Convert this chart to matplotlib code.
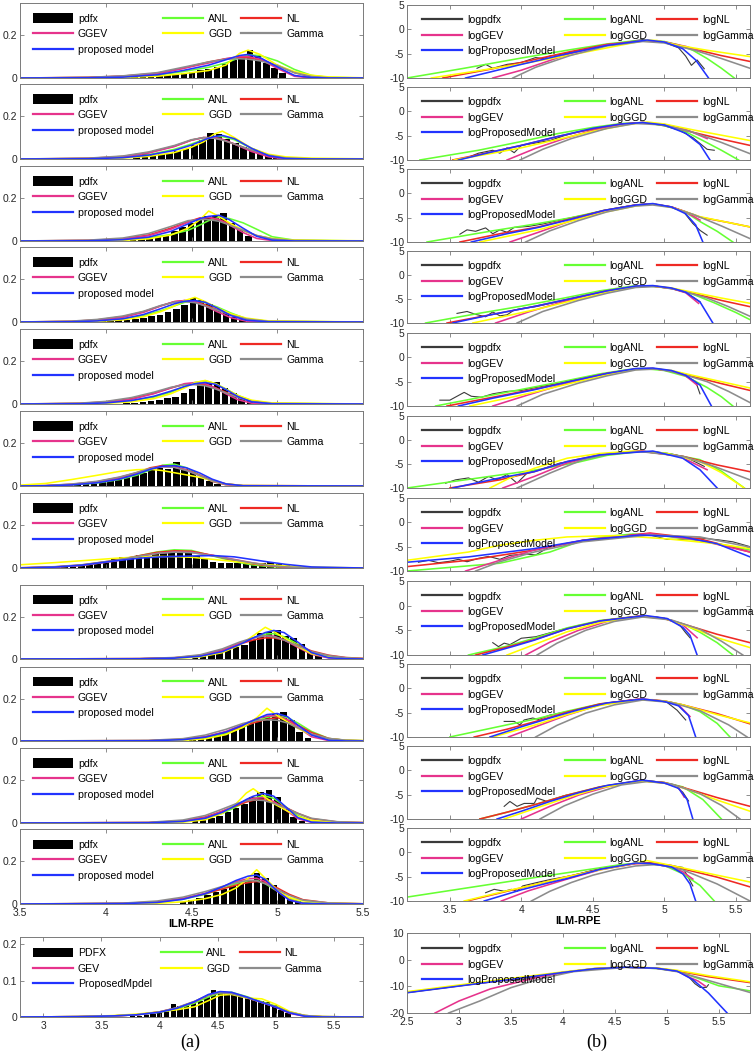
import matplotlib
matplotlib.use('Agg')
import matplotlib.pyplot as plt
import numpy as np

plt.rcParams['font.family'] = ['Liberation Sans', 'DejaVu Sans']

# ======================= DATA =======================
LEFT_LABELS = ['pdfx', 'ANL', 'NL', 'GGEV', 'GGD', 'Gamma', 'proposed model']
LEFT12_LABELS = ['PDFX', 'ANL', 'NL', 'GEV', 'GGD', 'Gamma', 'ProposedMpdel']
RIGHT_LABELS = ['logpdfx', 'logANL', 'logNL', 'logGEV', 'logGGD', 'logGamma', 'logProposedModel']

LEFT_XTICKS = [3.5, 4, 4.5, 5, 5.5]
LEFT12_XTICKS = [3, 3.5, 4, 4.5, 5, 5.5]
RIGHT_XTICKS = [3.5, 4, 4.5, 5, 5.5]
RIGHT12_XTICKS = [2.5, 3, 3.5, 4, 4.5, 5, 5.5]
LEFT_YTICKS = [0, 0.2]
LEFT12_YTICKS = [0, 0.1, 0.2]
RIGHT_YTICKS = [-10, -5, 0, 5]
RIGHT12_YTICKS = [-20, -10, 0, 10]

BIN_W = 0.048
BIN_W12 = 0.058

# ---- left histograms (first bin centre, heights) ----
l1_hist_x0 = 4.12
l1_hist = [0.004, 0.006, 0.008, 0.010, 0.013, 0.016, 0.020, 0.025, 0.030, 0.036, 0.043, 0.052, 0.065, 0.085, 0.105, 0.133, 0.105, 0.070, 0.045, 0.025]
l2_hist_x0 = 4.18
l2_hist = [0.012, 0.025, 0.020, 0.025, 0.030, 0.038, 0.048, 0.065, 0.090, 0.120, 0.115, 0.095, 0.075, 0.055, 0.040, 0.025, 0.015, 0.008]
l3_hist_x0 = 4.16
l3_hist = [0.004, 0.008, 0.012, 0.018, 0.030, 0.048, 0.067, 0.082, 0.105, 0.116, 0.116, 0.130, 0.082, 0.050, 0.023]
l4_hist_x0 = 3.98
l4_hist = [0.004, 0.006, 0.008, 0.011, 0.015, 0.020, 0.026, 0.034, 0.045, 0.060, 0.080, 0.110, 0.105, 0.085, 0.062, 0.042, 0.025, 0.013, 0.006]
l5_hist_x0 = 4.12
l5_hist = [0.004, 0.006, 0.010, 0.014, 0.020, 0.026, 0.035, 0.050, 0.070, 0.095, 0.100, 0.103, 0.075, 0.050, 0.030, 0.015]
l6_hist_x0 = 3.74
l6_hist = [0.005, 0.008, 0.010, 0.015, 0.020, 0.025, 0.030, 0.040, 0.050, 0.060, 0.062, 0.075, 0.085, 0.080, 0.112, 0.078, 0.070, 0.040, 0.025, 0.010]
l7_hist_x0 = 3.665
l7_hist = [0.004, 0.006, 0.008, 0.010, 0.013, 0.017, 0.022, 0.030, 0.040, 0.052, 0.050, 0.062, 0.058, 0.070, 0.075, 0.075, 0.075, 0.072, 0.055, 0.040, 0.030, 0.025, 0.022, 0.022, 0.020, 0.020, 0.022, 0.027, 0.020, 0.012]
l8_hist_x0 = 4.52
l8_hist = [0.008, 0.014, 0.022, 0.032, 0.045, 0.055, 0.066, 0.090, 0.125, 0.130, 0.138, 0.110, 0.100, 0.073, 0.034, 0.015]
l9_hist_x0 = 4.507
l9_hist = [0.008, 0.012, 0.020, 0.030, 0.040, 0.050, 0.065, 0.090, 0.105, 0.120, 0.128, 0.136, 0.097, 0.042, 0.015]
l10_hist_x0 = 4.52
l10_hist = [0.008, 0.015, 0.025, 0.035, 0.050, 0.070, 0.090, 0.120, 0.145, 0.155, 0.120, 0.067, 0.028, 0.010]
l11_hist_x0 = 4.45
l11_hist = [0.010, 0.020, 0.030, 0.040, 0.055, 0.070, 0.085, 0.100, 0.110, 0.145, 0.120, 0.090, 0.060, 0.030, 0.012]
l12_hist_x0 = 3.77
l12_hist = [0.002, 0.003, 0.005, 0.008, 0.012, 0.016, 0.037, 0.030, 0.033, 0.040, 0.045, 0.055, 0.075, 0.070, 0.068, 0.065, 0.060, 0.055, 0.050, 0.045, 0.040, 0.032, 0.020, 0.010]

# ---- left fitted curves (shared x per panel) ----
l1_x = [3.5, 3.9, 4.1, 4.3, 4.45, 4.6, 4.7, 4.78, 4.83, 4.9, 5.0, 5.1, 5.2, 5.3, 5.5]
l1_anl = [0, .002, .006, .014, .03, .05, .07, .095, .108, .105, .08, .04, .012, .003, 0]
l1_nl = [0, .003, .009, .022, .045, .075, .09, .095, .094, .085, .06, .025, .006, .001, 0]
l1_ggev = [0, .002, .008, .02, .045, .07, .09, .1, .1, .088, .045, .008, 0, 0, 0]
l1_ggd = [0, 0, .003, .008, .02, .035, .06, .115, .13, .11, .06, .03, .013, .005, .001]
l1_gamma = [0, .003, .01, .025, .05, .075, .088, .09, .088, .08, .058, .025, .007, .001, 0]
l1_prop = [0, .001, .004, .015, .035, .06, .085, .105, .11, .095, .052, .012, .002, 0, 0]

l2_x = [3.5, 3.9, 4.1, 4.25, 4.4, 4.5, 4.57, 4.63, 4.68, 4.75, 4.85, 4.95, 5.05, 5.2, 5.5]
l2_anl = [0, .002, .008, .02, .045, .07, .09, .103, .105, .09, .05, .018, .005, .001, 0]
l2_nl = [0, .003, .012, .03, .06, .088, .1, .098, .09, .07, .04, .015, .004, 0, 0]
l2_ggev = [0, .002, .01, .028, .058, .088, .1, .1, .092, .07, .035, .01, 0, 0, 0]
l2_ggd = [0, 0, .004, .012, .03, .055, .08, .115, .13, .1, .05, .022, .01, .004, .001]
l2_gamma = [0, .004, .014, .033, .063, .09, .1, .097, .088, .07, .042, .018, .005, .001, 0]
l2_prop = [0, .001, .006, .018, .04, .065, .088, .105, .11, .095, .05, .015, .002, 0, 0]

l3_x = [3.5, 3.9, 4.1, 4.25, 4.38, 4.48, 4.55, 4.6, 4.66, 4.72, 4.8, 4.88, 4.97, 5.1, 5.5]
l3_anl = [0, .001, .006, .015, .03, .05, .075, .095, .11, .105, .085, .055, .02, .004, 0]
l3_nl = [0, .003, .01, .028, .06, .09, .108, .11, .1, .08, .05, .025, .01, .002, 0]
l3_ggev = [0, .002, .009, .025, .055, .088, .105, .11, .1, .075, .04, .012, .002, 0, 0]
l3_ggd = [0, 0, .003, .01, .028, .06, .1, .14, .115, .085, .05, .025, .012, .004, .001]
l3_gamma = [0, .004, .014, .035, .068, .095, .1, .1, .092, .075, .05, .026, .01, .002, 0]
l3_prop = [0, .001, .006, .018, .045, .08, .105, .115, .12, .1, .06, .022, .004, 0, 0]

l4_x = [3.5, 3.8, 3.95, 4.1, 4.22, 4.32, 4.4, 4.46, 4.52, 4.58, 4.65, 4.73, 4.82, 4.95, 5.5]
l4_anl = [0, .002, .006, .015, .03, .052, .075, .092, .1, .09, .07, .042, .015, .003, 0]
l4_nl = [0, .003, .01, .025, .048, .075, .095, .1, .095, .08, .058, .033, .013, .002, 0]
l4_ggev = [0, .002, .008, .022, .045, .075, .095, .1, .095, .075, .048, .02, .004, 0, 0]
l4_ggd = [0, 0, .003, .01, .024, .048, .075, .1, .115, .095, .065, .038, .018, .005, 0]
l4_gamma = [0, .004, .012, .028, .05, .077, .093, .095, .09, .075, .055, .032, .014, .003, 0]
l4_prop = [0, .001, .005, .015, .035, .062, .085, .097, .1, .092, .065, .03, .008, .001, 0]

l5_x = [3.5, 3.85, 4.0, 4.15, 4.28, 4.38, 4.46, 4.52, 4.58, 4.64, 4.7, 4.77, 4.85, 4.97, 5.5]
l5_anl = [0, .002, .006, .015, .032, .055, .08, .1, .108, .095, .07, .04, .015, .003, 0]
l5_nl = [0, .003, .01, .025, .05, .075, .092, .095, .09, .075, .055, .032, .012, .002, 0]
l5_ggev = [0, .002, .008, .022, .048, .075, .095, .1, .095, .075, .048, .02, .004, 0, 0]
l5_ggd = [0, 0, .003, .01, .025, .048, .075, .1, .11, .095, .07, .04, .018, .005, 0]
l5_gamma = [0, .004, .012, .03, .055, .078, .09, .09, .085, .07, .052, .03, .012, .002, 0]
l5_prop = [0, .001, .005, .016, .036, .06, .082, .095, .1, .092, .068, .035, .01, .001, 0]

l6_x = [3.5, 3.65, 3.8, 3.95, 4.08, 4.18, 4.26, 4.33, 4.4, 4.47, 4.55, 4.62, 4.7, 4.8, 5.5]
l6_anl = [0, .001, .005, .014, .03, .05, .075, .097, .102, .085, .05, .022, .006, .001, 0]
l6_nl = [0, .002, .008, .02, .04, .062, .085, .095, .09, .075, .05, .027, .01, .002, 0]
l6_ggev = [0, .001, .006, .018, .038, .06, .08, .09, .088, .075, .048, .022, .006, 0, 0]
l6_ggd = [.004, .012, .03, .05, .068, .076, .078, .072, .062, .052, .04, .025, .01, .002, 0]
l6_gamma = [0, .002, .009, .022, .042, .063, .082, .09, .087, .072, .048, .025, .009, .002, 0]
l6_prop = [0, .001, .005, .015, .032, .055, .078, .092, .095, .085, .06, .032, .01, .001, 0]

l7_x = [3.5, 3.7, 3.86, 4.05, 4.2, 4.3, 4.4, 4.5, 4.63, 4.75, 4.85, 4.95, 5.05, 5.2, 5.5]
l7_anl = [0, .004, .012, .033, .058, .075, .085, .082, .055, .03, .015, .007, .003, .001, 0]
l7_nl = [.001, .005, .014, .035, .058, .073, .08, .078, .058, .035, .02, .01, .004, .001, 0]
l7_ggev = [0, .004, .012, .032, .055, .068, .075, .073, .058, .04, .025, .013, .005, .001, 0]
l7_ggd = [.015, .025, .034, .045, .052, .054, .053, .05, .04, .03, .022, .015, .01, .004, 0]
l7_gamma = [.001, .006, .015, .035, .056, .068, .074, .072, .056, .038, .024, .012, .005, .001, 0]
l7_prop = [0, .004, .013, .033, .046, .051, .054, .056, .058, .052, .04, .028, .017, .005, 0]

l8_x = [3.5, 4.2, 4.4, 4.55, 4.68, 4.78, 4.86, 4.93, 4.98, 5.04, 5.12, 5.2, 5.3, 5.4, 5.5]
l8_anl = [0, .001, .004, .012, .035, .07, .1, .118, .12, .105, .07, .032, .01, .003, .001]
l8_nl = [0, .002, .006, .017, .042, .07, .09, .1, .1, .09, .065, .038, .018, .007, .003]
l8_ggev = [0, .001, .005, .016, .042, .075, .1, .11, .108, .09, .055, .022, .005, 0, 0]
l8_ggd = [0, 0, .002, .01, .03, .065, .11, .15, .13, .1, .06, .025, .009, .003, .001]
l8_gamma = [0, .002, .007, .02, .048, .08, .1, .11, .105, .09, .062, .035, .016, .006, .002]
l8_prop = [0, .001, .004, .013, .035, .068, .1, .125, .135, .125, .08, .03, .006, .001, 0]

l9_x = [3.5, 4.25, 4.45, 4.58, 4.7, 4.8, 4.88, 4.94, 5.0, 5.06, 5.12, 5.2, 5.3, 5.4, 5.5]
l9_anl = [0, .001, .005, .015, .035, .065, .095, .112, .12, .11, .085, .045, .012, .003, .001]
l9_nl = [0, .002, .008, .02, .042, .07, .09, .103, .11, .1, .075, .04, .012, .003, .001]
l9_ggev = [0, .001, .007, .02, .045, .078, .105, .118, .12, .1, .065, .02, .002, 0, 0]
l9_ggd = [0, 0, .003, .01, .03, .065, .11, .155, .12, .09, .06, .028, .01, .004, .002]
l9_gamma = [0, .003, .011, .028, .055, .083, .098, .1, .098, .085, .062, .033, .012, .004, .001]
l9_prop = [0, .001, .006, .018, .042, .075, .105, .125, .13, .115, .075, .028, .004, 0, 0]

l10_x = [3.5, 4.25, 4.45, 4.58, 4.68, 4.76, 4.82, 4.86, 4.92, 4.98, 5.05, 5.12, 5.2, 5.35, 5.5]
l10_anl = [0, .001, .006, .02, .045, .075, .1, .115, .128, .115, .075, .035, .01, .001, 0]
l10_nl = [0, .002, .01, .028, .055, .08, .098, .106, .108, .097, .072, .045, .02, .005, .002]
l10_ggev = [0, .002, .009, .025, .055, .085, .105, .115, .118, .1, .06, .02, .003, 0, 0]
l10_ggd = [0, 0, .004, .015, .045, .09, .14, .16, .125, .09, .06, .03, .012, .003, .001]
l10_gamma = [0, .003, .014, .035, .065, .09, .104, .108, .105, .092, .07, .045, .022, .006, .002]
l10_prop = [0, .001, .007, .022, .05, .083, .11, .125, .138, .125, .075, .025, .004, 0, 0]

l11_x = [3.5, 4.1, 4.3, 4.45, 4.58, 4.68, 4.76, 4.83, 4.88, 4.93, 5.0, 5.07, 5.15, 5.3, 5.5]
l11_anl = [0, .002, .008, .022, .045, .072, .095, .108, .11, .095, .06, .025, .006, .001, 0]
l11_nl = [0, .003, .01, .025, .048, .07, .088, .1, .105, .1, .075, .045, .02, .005, .001]
l11_ggev = [0, .002, .009, .025, .05, .08, .105, .118, .12, .105, .06, .02, .003, 0, 0]
l11_ggd = [0, 0, .003, .01, .025, .045, .075, .12, .16, .12, .065, .03, .015, .004, .001]
l11_gamma = [0, .004, .014, .032, .058, .082, .1, .11, .108, .095, .068, .04, .018, .005, .001]
l11_prop = [0, .002, .007, .022, .048, .08, .11, .13, .135, .115, .06, .018, .003, 0, 0]

l12_x = [2.8, 3.3, 3.6, 3.8, 4.0, 4.15, 4.3, 4.42, 4.52, 4.62, 4.75, 4.88, 5.0, 5.12, 5.25, 5.4, 5.75]
l12_anl = [0, .001, .003, .006, .013, .022, .038, .055, .066, .068, .056, .042, .03, .014, .004, .001, 0]
l12_nl = [0, .001, .003, .006, .014, .025, .042, .06, .068, .065, .053, .04, .028, .013, .004, .001, 0]
l12_ggev = [0, .001, .003, .006, .014, .025, .042, .06, .069, .066, .054, .04, .027, .01, .002, 0, 0]
l12_ggd = [0, .001, .004, .008, .014, .02, .028, .045, .06, .062, .052, .05, .035, .015, .004, .001, 0]
l12_gamma = [0, .001, .003, .006, .014, .026, .043, .06, .067, .064, .053, .04, .028, .013, .004, .001, 0]
l12_prop = [0, .001, .003, .006, .013, .024, .042, .062, .07, .068, .055, .04, .027, .011, .002, 0, 0]

# ---- right log curves, (x, y) pairs ----
r1_pdfx = [(3.69, -8.0), (3.75, -7.2), (3.8, -8.0), (3.9, -7.2), (4.0, -6.8), (4.1, -5.8), (4.15, -6.0), (4.2, -5.5), (4.3, -5.0), (4.4, -4.4), (4.5, -3.8), (4.6, -3.3), (4.7, -2.8), (4.8, -2.3), (4.85, -2.1), (4.9, -2.3), (5.0, -2.7), (5.1, -3.8), (5.15, -5.5), (5.19, -7.4), (5.23, -6.3), (5.28, -8.1)]
r1_anl = [(3.2, -10), (3.6, -8.0), (4.0, -5.9), (4.34, -4.2), (4.6, -3.0), (4.75, -2.5), (4.88, -2.3), (5.0, -2.5), (5.1, -3.2), (5.2, -4.3), (5.3, -6.0), (5.4, -8.0), (5.49, -10)]
r1_nl = [(3.45, -10), (3.8, -8.1), (4.0, -6.8), (4.34, -4.6), (4.6, -3.1), (4.88, -2.3), (5.0, -2.6), (5.2, -4.0), (5.4, -5.4), (5.6, -6.6)]
r1_gev = [(3.8, -10), (4.0, -8.4), (4.2, -6.4), (4.34, -5.0), (4.6, -3.2), (4.88, -2.3), (5.0, -2.6), (5.15, -3.5), (5.25, -4.5)]
r1_ggd = [(3.37, -10), (3.7, -8.5), (4.0, -7.1), (4.34, -5.3), (4.6, -3.8), (4.88, -2.2), (4.95, -2.3), (5.1, -3.3), (5.3, -4.3), (5.6, -5.6)]
r1_gamma = [(3.94, -10), (4.1, -7.8), (4.34, -5.4), (4.6, -3.4), (4.85, -2.5), (5.0, -2.8), (5.2, -4.2), (5.4, -6.0), (5.6, -8.0)]
r1_prop = [(3.61, -10), (4.0, -7.2), (4.34, -4.9), (4.6, -3.3), (4.88, -2.2), (5.0, -2.6), (5.13, -4.0), (5.22, -6.3), (5.31, -10)]

r2_pdfx = [(3.64, -9.3), (3.7, -8.6), (3.8, -8.0), (3.85, -8.6), (3.9, -7.5), (3.95, -8.5), (4.0, -7.0), (4.1, -6.5), (4.2, -6.0), (4.3, -5.0), (4.4, -4.2), (4.5, -3.7), (4.6, -3.3), (4.7, -2.7), (4.8, -2.4), (4.9, -2.5), (5.0, -3.0), (5.1, -3.8), (5.2, -5.4), (5.25, -6.6), (5.3, -7.8), (5.35, -8.0)]
r2_anl = [(3.29, -10), (3.7, -8.0), (4.0, -6.2), (4.25, -4.6), (4.5, -3.3), (4.7, -2.5), (4.85, -2.3), (5.0, -2.9), (5.15, -4.2), (5.27, -6.0), (5.4, -8.0), (5.52, -10)]
r2_nl = [(3.52, -10), (3.8, -8.3), (4.0, -7.0), (4.25, -5.2), (4.5, -3.6), (4.7, -2.6), (4.85, -2.3), (5.0, -2.8), (5.2, -4.3), (5.4, -5.7), (5.6, -7.0)]
r2_gev = [(3.9, -10), (4.1, -7.6), (4.3, -5.6), (4.5, -3.9), (4.7, -2.7), (4.85, -2.3), (5.0, -2.7), (5.15, -3.7), (5.3, -5.6)]
r2_ggd = [(3.53, -10), (3.8, -8.6), (4.0, -7.5), (4.25, -5.8), (4.5, -4.1), (4.75, -2.7), (4.88, -2.2), (5.0, -2.6), (5.2, -3.8), (5.4, -4.9), (5.6, -6.0)]
r2_gamma = [(3.99, -10), (4.15, -7.8), (4.35, -5.6), (4.6, -3.5), (4.8, -2.5), (5.0, -2.8), (5.2, -4.3), (5.4, -6.4), (5.6, -8.7)]
r2_prop = [(3.56, -10), (3.8, -8.3), (4.0, -7.0), (4.25, -5.2), (4.5, -3.5), (4.7, -2.6), (4.85, -2.3), (5.0, -2.8), (5.15, -4.5), (5.25, -6.8), (5.32, -10)]

r3_pdfx = [(3.57, -8.4), (3.62, -7.5), (3.68, -7.8), (3.75, -7.1), (3.8, -8.3), (3.85, -7.5), (3.9, -8.0), (3.95, -7.0), (4.05, -6.8), (4.15, -6.3), (4.3, -5.3), (4.45, -4.4), (4.6, -3.4), (4.75, -2.6), (4.85, -2.2), (4.95, -2.3), (5.05, -2.8), (5.13, -3.6), (5.2, -6.2), (5.25, -7.6), (5.3, -8.6)]
r3_anl = [(3.34, -10), (3.8, -7.7), (4.12, -6.2), (4.35, -5.0), (4.58, -3.5), (4.8, -2.4), (4.92, -2.2), (5.05, -2.8), (5.15, -3.9), (5.25, -5.8), (5.37, -7.8), (5.48, -10)]
r3_nl = [(3.57, -10), (3.85, -8.3), (4.12, -6.9), (4.35, -5.2), (4.58, -3.5), (4.8, -2.4), (4.92, -2.2), (5.05, -2.8), (5.15, -3.8), (5.25, -4.9), (5.45, -6.0), (5.6, -6.9)]
r3_gev = [(3.92, -10), (4.12, -8.0), (4.35, -5.6), (4.58, -3.6), (4.8, -2.4), (4.92, -2.2), (5.05, -2.8), (5.15, -3.8), (5.25, -5.5)]
r3_ggd = [(3.71, -10), (4.12, -7.5), (4.35, -5.7), (4.58, -3.9), (4.8, -2.6), (4.92, -2.2), (5.05, -2.9), (5.15, -3.8), (5.25, -4.8), (5.45, -6.0), (5.6, -6.9)]
r3_gamma = [(4.03, -10), (4.2, -7.7), (4.4, -5.6), (4.6, -3.8), (4.8, -2.6), (4.92, -2.4), (5.05, -2.9), (5.2, -4.3), (5.4, -6.7), (5.6, -9.3)]
r3_prop = [(3.65, -10), (3.9, -8.3), (4.12, -7.0), (4.35, -5.3), (4.58, -3.5), (4.8, -2.4), (4.92, -2.1), (5.05, -2.8), (5.15, -4.2), (5.22, -6.5), (5.27, -10)]

r4_pdfx = [(3.55, -8.0), (3.62, -7.6), (3.68, -8.2), (3.75, -8.7), (3.8, -7.7), (3.85, -8.5), (3.9, -8.3), (3.95, -7.3), (4.0, -7.0), (4.1, -6.6), (4.25, -5.6), (4.4, -4.6), (4.55, -3.6), (4.7, -2.8), (4.85, -2.3), (4.95, -2.4), (5.05, -2.8), (5.15, -3.6), (5.22, -5.0), (5.25, -5.6)]
r4_anl = [(3.33, -10), (3.7, -8.0), (4.0, -6.5), (4.3, -4.8), (4.55, -3.3), (4.78, -2.3), (4.9, -2.3), (5.05, -2.8), (5.2, -4.0), (5.35, -5.8), (5.5, -7.8), (5.6, -9.3)]
r4_nl = [(3.48, -10), (3.8, -8.2), (4.1, -6.5), (4.35, -4.9), (4.6, -3.3), (4.8, -2.4), (4.92, -2.3), (5.05, -2.8), (5.2, -3.8), (5.4, -5.3), (5.6, -6.6)]
r4_gev = [(3.82, -10), (4.05, -7.7), (4.3, -5.5), (4.55, -3.6), (4.8, -2.4), (4.92, -2.3), (5.05, -2.8), (5.15, -3.7), (5.24, -5.9)]
r4_ggd = [(3.66, -10), (3.9, -8.5), (4.1, -7.2), (4.35, -5.4), (4.6, -3.6), (4.8, -2.5), (4.92, -2.3), (5.05, -2.7), (5.2, -3.6), (5.4, -4.8), (5.6, -5.9)]
r4_gamma = [(3.97, -10), (4.15, -7.6), (4.4, -5.3), (4.6, -3.8), (4.8, -2.6), (4.95, -2.4), (5.1, -3.1), (5.3, -4.8), (5.45, -6.6), (5.6, -8.6)]
r4_prop = [(3.52, -10), (3.8, -8.2), (4.1, -6.5), (4.35, -4.9), (4.6, -3.3), (4.8, -2.3), (4.92, -2.2), (5.05, -2.7), (5.15, -3.6), (5.25, -5.6), (5.34, -10)]

r5_pdfx = [(3.43, -8.8), (3.5, -8.8), (3.55, -8.0), (3.6, -7.2), (3.65, -8.0), (3.72, -8.2), (3.8, -7.5), (3.9, -7.0), (4.0, -6.8), (4.1, -6.2), (4.25, -5.4), (4.4, -4.5), (4.55, -3.6), (4.7, -2.8), (4.85, -2.3), (4.95, -2.4), (5.05, -2.8), (5.15, -3.8), (5.22, -5.0), (5.25, -7.5)]
r5_anl = [(3.4, -10), (3.7, -8.3), (4.0, -6.6), (4.3, -4.9), (4.55, -3.4), (4.75, -2.5), (4.85, -2.3), (5.0, -2.7), (5.15, -3.9), (5.3, -6.2), (5.4, -8.1), (5.48, -10)]
r5_nl = [(3.48, -10), (3.8, -8.2), (4.1, -6.5), (4.35, -4.9), (4.6, -3.3), (4.8, -2.4), (4.92, -2.3), (5.05, -2.8), (5.2, -3.9), (5.4, -5.4), (5.6, -6.8)]
r5_gev = [(3.8, -10), (4.05, -7.7), (4.3, -5.5), (4.55, -3.6), (4.8, -2.4), (4.92, -2.3), (5.05, -2.8), (5.15, -3.8), (5.23, -5.7)]
r5_ggd = [(3.64, -10), (3.9, -8.4), (4.1, -7.1), (4.35, -5.3), (4.6, -3.6), (4.8, -2.5), (4.92, -2.3), (5.05, -2.7), (5.2, -3.7), (5.4, -5.0), (5.6, -6.3)]
r5_gamma = [(3.97, -10), (4.15, -7.6), (4.4, -5.3), (4.6, -3.8), (4.8, -2.6), (4.95, -2.4), (5.1, -3.2), (5.3, -5.0), (5.45, -7.0), (5.6, -9.3)]
r5_prop = [(3.56, -10), (3.8, -8.4), (4.1, -6.6), (4.35, -4.9), (4.6, -3.3), (4.8, -2.3), (4.92, -2.2), (5.05, -2.7), (5.15, -3.7), (5.25, -5.7), (5.33, -10)]

r6_pdfx = [(3.47, -9.0), (3.54, -8.3), (3.63, -7.9), (3.7, -8.8), (3.77, -7.6), (3.83, -8.3), (3.9, -7.2), (3.97, -9.0), (4.04, -6.9), (4.13, -6.2), (4.27, -4.8), (4.41, -4.1), (4.55, -3.2), (4.7, -2.6), (4.83, -2.3), (4.95, -2.5), (5.05, -2.9), (5.15, -3.6), (5.22, -4.6), (5.28, -5.5)]
r6_anl = [(3.2, -10), (4.11, -6.2), (4.4, -4.6), (4.6, -3.2), (4.83, -2.4), (5.0, -2.7), (5.25, -4.1), (5.4, -6.5), (5.56, -10)]
r6_nl = [(3.5, -10), (3.85, -8.3), (4.09, -6.6), (4.32, -4.5), (4.55, -3.1), (4.83, -2.3), (5.13, -3.4), (5.37, -5.2), (5.6, -6.6)]
r6_gev = [(3.87, -10), (4.09, -7.6), (4.32, -4.8), (4.55, -3.1), (4.83, -2.3), (5.1, -3.3), (5.3, -6.2)]
r6_ggd = [(3.78, -10), (3.92, -7.9), (4.09, -5.9), (4.32, -3.8), (4.55, -2.8), (4.78, -2.3), (5.02, -2.8), (5.25, -4.5), (5.4, -6.8), (5.56, -10)]
r6_gamma = [(3.97, -10), (4.2, -6.9), (4.43, -4.1), (4.6, -3.0), (4.83, -2.4), (5.13, -3.4), (5.35, -5.5), (5.6, -8.3)]
r6_prop = [(3.52, -10), (3.85, -7.9), (4.09, -6.6), (4.32, -4.5), (4.55, -3.1), (4.92, -2.3), (5.13, -3.8), (5.25, -6.2), (5.37, -10)]

r7_pdfx = [(3.28, -8.2), (3.35, -7.8), (3.42, -8.3), (3.5, -8.0), (3.56, -7.6), (3.62, -8.1), (3.7, -7.4), (3.77, -7.0), (3.85, -7.6), (3.92, -6.8), (4.02, -6.5), (4.1, -6.7), (4.2, -5.0), (4.35, -4.2), (4.55, -3.3), (4.78, -2.5), (4.9, -2.6), (5.02, -3.5), (5.13, -3.5), (5.25, -3.2), (5.38, -3.6), (5.48, -4.0), (5.6, -5.0)]
r7_anl = [(3.2, -10), (3.85, -8.4), (4.2, -6.1), (4.43, -3.7), (4.6, -2.9), (4.78, -2.4), (5.0, -2.8), (5.25, -3.8), (5.45, -4.8), (5.6, -5.7)]
r7_nl = [(3.2, -9.1), (3.63, -7.8), (4.09, -5.7), (4.43, -3.7), (4.9, -2.2), (5.25, -3.4), (5.6, -6.1)]
r7_gev = [(3.61, -10), (3.85, -7.8), (4.09, -5.7), (4.43, -3.7), (4.9, -2.3), (5.25, -3.7), (5.6, -6.1)]
r7_ggd = [(3.2, -7.8), (3.63, -6.1), (3.85, -4.7), (4.09, -3.7), (4.32, -3.0), (4.67, -2.7), (5.02, -3.4), (5.37, -4.4), (5.6, -5.4)]
r7_gamma = [(3.68, -10), (3.85, -8.1), (4.09, -6.1), (4.43, -4.0), (4.9, -2.6), (5.25, -3.0), (5.6, -5.1)]
r7_prop = [(3.2, -8.2), (3.63, -7.1), (4.09, -5.4), (4.43, -3.7), (4.83, -2.6), (5.13, -3.0), (5.37, -4.4), (5.6, -7.1)]

r8_pdfx = [(3.8, -7.5), (3.84, -8.3), (3.88, -7.6), (3.92, -7.9), (4.0, -6.6), (4.1, -6.3), (4.25, -5.1), (4.4, -4.0), (4.55, -3.1), (4.7, -2.5), (4.85, -2.1), (4.95, -2.3), (5.05, -2.9), (5.11, -4.0), (5.15, -5.5), (5.18, -6.5)]
r8_anl = [(3.63, -10), (3.9, -8.2), (4.09, -6.6), (4.32, -4.5), (4.55, -3.0), (4.83, -2.1), (5.0, -2.6), (5.13, -3.7), (5.25, -5.4), (5.37, -7.5), (5.48, -10)]
r8_nl = [(3.68, -10), (3.9, -8.4), (4.09, -6.9), (4.32, -4.7), (4.55, -3.1), (4.83, -2.1), (5.0, -2.6), (5.13, -3.7), (5.37, -5.8), (5.6, -7.5)]
r8_gev = [(4.03, -10), (4.2, -7.4), (4.4, -5.0), (4.6, -3.2), (4.83, -2.1), (5.0, -2.6), (5.13, -3.9), (5.23, -6.5)]
r8_ggd = [(3.9, -10), (4.09, -7.9), (4.32, -5.3), (4.55, -3.4), (4.83, -2.2), (5.0, -2.6), (5.13, -3.8), (5.37, -6.5), (5.6, -8.5)]
r8_gamma = [(4.11, -10), (4.25, -7.6), (4.45, -5.0), (4.65, -3.2), (4.85, -2.3), (5.05, -2.9), (5.25, -4.8), (5.4, -7.2), (5.55, -10)]
r8_prop = [(3.73, -10), (3.95, -8.2), (4.09, -7.0), (4.32, -4.7), (4.55, -3.1), (4.87, -2.0), (5.02, -2.6), (5.13, -4.4), (5.18, -6.0), (5.23, -10)]

r9_pdfx = [(3.88, -6.8), (3.95, -6.8), (3.99, -7.5), (4.02, -6.5), (4.08, -6.1), (4.12, -6.4), (4.2, -5.5), (4.35, -4.6), (4.5, -3.6), (4.65, -2.8), (4.8, -2.3), (4.92, -2.3), (5.02, -2.9), (5.09, -4.5), (5.15, -6.5)]
r9_anl = [(3.5, -10), (3.9, -7.5), (4.1, -6.3), (4.32, -4.7), (4.55, -3.2), (4.83, -2.3), (5.0, -2.6), (5.13, -3.4), (5.25, -4.8), (5.37, -7.2), (5.46, -10)]
r9_nl = [(3.67, -10), (3.9, -8.4), (4.1, -6.8), (4.32, -4.9), (4.55, -3.2), (4.83, -2.2), (5.0, -2.6), (5.13, -3.4), (5.37, -5.2), (5.6, -7.3)]
r9_gev = [(3.91, -10), (4.1, -7.9), (4.32, -5.5), (4.55, -3.4), (4.83, -2.2), (5.0, -2.6), (5.1, -3.4), (5.18, -5.8)]
r9_ggd = [(3.8, -10), (4.1, -7.5), (4.32, -5.4), (4.55, -3.5), (4.83, -2.3), (5.0, -2.6), (5.13, -3.4), (5.37, -5.4), (5.6, -7.1)]
r9_gamma = [(4.1, -10), (4.25, -7.6), (4.45, -5.1), (4.65, -3.4), (4.85, -2.4), (5.05, -2.9), (5.25, -4.6), (5.45, -7.5), (5.58, -10)]
r9_prop = [(3.78, -10), (4.0, -7.9), (4.2, -6.1), (4.4, -4.4), (4.6, -3.0), (4.85, -2.2), (5.0, -2.7), (5.1, -3.6), (5.17, -5.6), (5.22, -10)]

r10_pdfx = [(3.88, -7.4), (3.92, -6.4), (3.97, -7.4), (4.02, -6.8), (4.09, -6.8), (4.11, -5.7), (4.18, -6.4), (4.3, -5.2), (4.45, -4.3), (4.6, -3.3), (4.75, -2.5), (4.88, -2.1), (5.0, -2.5), (5.08, -3.3), (5.13, -4.5), (5.17, -6.3)]
r10_anl = [(3.71, -10), (3.9, -8.6), (4.1, -7.0), (4.32, -5.1), (4.55, -3.4), (4.83, -2.1), (5.0, -2.5), (5.13, -3.4), (5.27, -6.0), (5.4, -10)]
r10_nl = [(3.71, -10), (3.9, -8.6), (4.1, -7.0), (4.32, -5.1), (4.55, -3.4), (4.83, -2.1), (5.0, -2.5), (5.13, -3.5), (5.37, -5.6), (5.6, -7.4)]
r10_gev = [(4.0, -10), (4.2, -7.4), (4.4, -5.1), (4.6, -3.4), (4.83, -2.1), (5.0, -2.6), (5.1, -3.5), (5.14, -5.5)]
r10_ggd = [(3.88, -10), (4.1, -7.8), (4.32, -5.6), (4.55, -3.6), (4.83, -2.2), (5.0, -2.6), (5.13, -3.6), (5.37, -6.1), (5.6, -8.4)]
r10_gamma = [(4.13, -10), (4.3, -7.3), (4.5, -4.9), (4.7, -3.0), (4.88, -2.3), (5.05, -2.8), (5.25, -4.8), (5.4, -7.2), (5.53, -10)]
r10_prop = [(3.83, -10), (4.0, -8.4), (4.2, -6.4), (4.4, -4.6), (4.6, -3.1), (4.85, -2.0), (5.0, -2.6), (5.1, -3.7), (5.16, -6.0), (5.2, -10)]

r11_pdfx = [(3.75, -8.3), (3.81, -7.6), (3.88, -8.0), (3.93, -7.6), (3.97, -8.0), (4.01, -6.9), (4.11, -6.2), (4.2, -5.6), (4.35, -4.8), (4.5, -3.7), (4.65, -2.9), (4.8, -2.2), (4.9, -2.1), (5.0, -2.5), (5.13, -3.1), (5.2, -6.9)]
r11_anl = [(3.2, -9.2), (4.09, -5.2), (4.5, -3.4), (4.7, -2.5), (4.83, -2.2), (5.0, -2.7), (5.13, -4.4), (5.25, -6.8), (5.35, -10)]
r11_nl = [(3.62, -10), (3.9, -8.0), (4.1, -6.6), (4.32, -5.0), (4.55, -3.5), (4.8, -2.3), (4.9, -2.2), (5.05, -2.7), (5.13, -3.4), (5.37, -5.1), (5.6, -7.1)]
r11_gev = [(3.86, -10), (4.05, -7.9), (4.32, -5.5), (4.55, -3.6), (4.8, -2.3), (4.9, -2.3), (5.05, -3.0), (5.13, -4.0), (5.2, -5.5)]
r11_ggd = [(3.6, -10), (3.9, -7.9), (4.1, -6.6), (4.32, -5.0), (4.55, -3.6), (4.75, -2.5), (4.88, -1.7), (5.0, -2.4), (5.13, -3.2), (5.37, -4.7), (5.6, -6.1)]
r11_gamma = [(4.07, -10), (4.2, -8.0), (4.35, -6.2), (4.5, -4.7), (4.65, -3.6), (4.8, -2.8), (4.95, -2.5), (5.13, -3.6), (5.37, -6.5), (5.6, -10)]
r11_prop = [(3.74, -10), (4.0, -7.7), (4.2, -6.2), (4.32, -5.4), (4.55, -3.5), (4.8, -2.2), (4.9, -2.3), (5.05, -3.0), (5.13, -4.4), (5.18, -6.5), (5.22, -10)]

r12_pdfx = [(3.45, -8.0), (3.6, -7.6), (3.75, -6.5), (3.9, -5.5), (4.05, -4.6), (4.2, -3.9), (4.35, -3.3), (4.5, -2.9), (4.65, -2.8), (4.8, -3.0), (4.95, -3.4), (5.1, -4.2), (5.2, -6.0), (5.27, -9.0), (5.32, -10.4), (5.38, -10.4), (5.4, -9.4)]
r12_anl = [(2.5, -12.3), (3.0, -9.8), (3.5, -7.3), (4.0, -4.8), (4.3, -3.4), (4.6, -2.8), (4.9, -3.3), (5.1, -4.3), (5.3, -7.0), (5.5, -9.8), (5.8, -11.7)]
r12_nl = [(2.5, -12.3), (3.0, -9.8), (3.5, -7.4), (4.0, -4.8), (4.3, -3.4), (4.6, -2.8), (4.9, -3.2), (5.1, -4.2), (5.4, -6.4), (5.8, -8.6)]
r12_gev = [(2.77, -20), (3.0, -15.5), (3.3, -11), (3.74, -6.8), (4.0, -4.8), (4.3, -3.4), (4.6, -2.8), (4.9, -3.2), (5.1, -4.3), (5.21, -6.5), (5.3, -8.0), (5.37, -9.9)]
r12_ggd = [(2.5, -12.0), (3.0, -9.5), (3.5, -7.0), (4.0, -4.6), (4.3, -3.3), (4.6, -2.7), (4.9, -3.1), (5.1, -4.0), (5.4, -6.0), (5.8, -8.3)]
r12_gamma = [(2.9, -20), (3.2, -15.5), (3.5, -10.5), (3.8, -7.0), (4.1, -4.5), (4.6, -2.9), (4.9, -3.3), (5.1, -4.5), (5.4, -7.8), (5.8, -12.3)]
r12_prop = [(2.5, -12.4), (3.0, -9.9), (3.5, -7.4), (4.0, -4.8), (4.3, -3.4), (4.6, -2.8), (4.9, -3.2), (5.1, -4.3), (5.25, -7.5), (5.4, -12.5), (5.58, -20)]

# ======================= STYLE / LAYOUT =======================
FIG_W, FIG_H = 754, 1056
COL = {'ANL': '#66ff33', 'NL': '#ee2a24', 'GGEV': '#e6338c', 'GGD': '#ffff00',
       'Gamma': '#8c8c8c', 'Prop': '#2233ff', 'pdfx': '#3a3a3a'}
LEFT_X = (20, 363)
RIGHT_X = (407, 750)
LEFT_ROWS = [(3, 78), (84, 159), (166, 241), (247, 322), (329, 404), (411, 486), (493, 568),
             (585, 659), (667, 741), (748, 823), (829, 904), (937, 1017)]
RIGHT_ROWS = [(5, 78), (87, 160), (169, 242), (251, 323), (333, 406), (416, 488), (498, 571),
              (581, 655), (664, 737), (746, 819), (828, 901), (933, 1013)]
SPINE = '#7a7a7a'
FS_LEG = 7.6
FS_TICK = 7.5
LW = 1.15

fig = plt.figure(figsize=(FIG_W / 100, FIG_H / 100), dpi=100)


def make_ax(xpx, rowpx):
    l = xpx[0] / FIG_W
    w = (xpx[1] - xpx[0]) / FIG_W
    b = 1 - rowpx[1] / FIG_H
    h = (rowpx[1] - rowpx[0]) / FIG_H
    ax = fig.add_axes([l, b, w, h])
    for s in ax.spines.values():
        s.set_color(SPINE)
        s.set_linewidth(0.7)
    ax.tick_params(direction='in', length=3, width=0.6, color=SPINE, top=True, right=True,
                   labelsize=FS_TICK, labelcolor='#262626', pad=2)
    ax.tick_params(axis='x', pad=3.2)
    return ax


def fmt(v):
    return '%g' % v


def legend(ax, handles, labels, x0):
    leg = ax.legend(handles, labels, ncol=3, loc='upper left', bbox_to_anchor=(x0, 0.86),
                    frameon=False, fontsize=FS_LEG, handlelength=3.8, handleheight=0.95,
                    handletextpad=0.45, columnspacing=0.9, labelspacing=0.5,
                    borderpad=0, borderaxespad=0)
    for ln in leg.get_lines():
        ln.set_linewidth(1.6)


left_panels = [
    (l1_hist_x0, l1_hist, l1_x, l1_anl, l1_nl, l1_ggev, l1_ggd, l1_gamma, l1_prop),
    (l2_hist_x0, l2_hist, l2_x, l2_anl, l2_nl, l2_ggev, l2_ggd, l2_gamma, l2_prop),
    (l3_hist_x0, l3_hist, l3_x, l3_anl, l3_nl, l3_ggev, l3_ggd, l3_gamma, l3_prop),
    (l4_hist_x0, l4_hist, l4_x, l4_anl, l4_nl, l4_ggev, l4_ggd, l4_gamma, l4_prop),
    (l5_hist_x0, l5_hist, l5_x, l5_anl, l5_nl, l5_ggev, l5_ggd, l5_gamma, l5_prop),
    (l6_hist_x0, l6_hist, l6_x, l6_anl, l6_nl, l6_ggev, l6_ggd, l6_gamma, l6_prop),
    (l7_hist_x0, l7_hist, l7_x, l7_anl, l7_nl, l7_ggev, l7_ggd, l7_gamma, l7_prop),
    (l8_hist_x0, l8_hist, l8_x, l8_anl, l8_nl, l8_ggev, l8_ggd, l8_gamma, l8_prop),
    (l9_hist_x0, l9_hist, l9_x, l9_anl, l9_nl, l9_ggev, l9_ggd, l9_gamma, l9_prop),
    (l10_hist_x0, l10_hist, l10_x, l10_anl, l10_nl, l10_ggev, l10_ggd, l10_gamma, l10_prop),
    (l11_hist_x0, l11_hist, l11_x, l11_anl, l11_nl, l11_ggev, l11_ggd, l11_gamma, l11_prop),
    (l12_hist_x0, l12_hist, l12_x, l12_anl, l12_nl, l12_ggev, l12_ggd, l12_gamma, l12_prop),
]

right_panels = [
    (r1_pdfx, r1_anl, r1_nl, r1_gev, r1_ggd, r1_gamma, r1_prop),
    (r2_pdfx, r2_anl, r2_nl, r2_gev, r2_ggd, r2_gamma, r2_prop),
    (r3_pdfx, r3_anl, r3_nl, r3_gev, r3_ggd, r3_gamma, r3_prop),
    (r4_pdfx, r4_anl, r4_nl, r4_gev, r4_ggd, r4_gamma, r4_prop),
    (r5_pdfx, r5_anl, r5_nl, r5_gev, r5_ggd, r5_gamma, r5_prop),
    (r6_pdfx, r6_anl, r6_nl, r6_gev, r6_ggd, r6_gamma, r6_prop),
    (r7_pdfx, r7_anl, r7_nl, r7_gev, r7_ggd, r7_gamma, r7_prop),
    (r8_pdfx, r8_anl, r8_nl, r8_gev, r8_ggd, r8_gamma, r8_prop),
    (r9_pdfx, r9_anl, r9_nl, r9_gev, r9_ggd, r9_gamma, r9_prop),
    (r10_pdfx, r10_anl, r10_nl, r10_gev, r10_ggd, r10_gamma, r10_prop),
    (r11_pdfx, r11_anl, r11_nl, r11_gev, r11_ggd, r11_gamma, r11_prop),
    (r12_pdfx, r12_anl, r12_nl, r12_gev, r12_ggd, r12_gamma, r12_prop),
]

# ---------------- left column ----------------
for i, p in enumerate(left_panels):
    x0, hist, gx, anl, nl, ggev, ggd, gam, prop = p
    last = (i == 11)
    ax = make_ax(LEFT_X, LEFT_ROWS[i])
    bw = BIN_W12 if last else BIN_W
    centers = x0 + bw * np.arange(len(hist))
    bars = ax.bar(centers, hist, width=0.8 * bw, color='black', linewidth=0)
    h_anl, = ax.plot(gx, anl, color=COL['ANL'], lw=LW)
    h_nl, = ax.plot(gx, nl, color=COL['NL'], lw=LW)
    h_gev, = ax.plot(gx, ggev, color=COL['GGEV'], lw=LW)
    h_ggd, = ax.plot(gx, ggd, color=COL['GGD'], lw=LW)
    h_gam, = ax.plot(gx, gam, color=COL['Gamma'], lw=LW)
    h_prop, = ax.plot(gx, prop, color=COL['Prop'], lw=LW)
    labs = LEFT12_LABELS if last else LEFT_LABELS
    handles = [bars, h_gev, h_prop, h_anl, h_ggd, h_nl, h_gam]
    labels = [labs[0], labs[3], labs[6], labs[1], labs[4], labs[2], labs[5]]
    legend(ax, handles, labels, 0.038)
    if last:
        ax.set_xlim(2.8, 5.75)
        ax.set_ylim(0, 0.22)
        ax.set_xticks(LEFT12_XTICKS, [fmt(v) for v in LEFT12_XTICKS])
        ax.set_yticks(LEFT12_YTICKS, [fmt(v) for v in LEFT12_YTICKS])
    else:
        ax.set_xlim(3.5, 5.5)
        ax.set_ylim(0, 0.35)
        ax.set_xticks(LEFT_XTICKS, [fmt(v) for v in LEFT_XTICKS])
        ax.set_yticks(LEFT_YTICKS, [fmt(v) for v in LEFT_YTICKS])
        if i < 10:
            ax.tick_params(labelbottom=False)
        else:
            ax.set_xlabel('ILM-RPE', fontsize=8, fontweight='bold', labelpad=0.5)

# ---------------- right column ----------------
for i, p in enumerate(right_panels):
    last = (i == 11)
    ax = make_ax(RIGHT_X, RIGHT_ROWS[i])
    pdfx, anl, nl, gev, ggd, gam, prop = p

    def xy(pts):
        return [q[0] for q in pts], [q[1] for q in pts]

    h_pdf, = ax.plot(*xy(pdfx), color=COL['pdfx'], lw=0.8)
    h_anl, = ax.plot(*xy(anl), color=COL['ANL'], lw=LW)
    h_nl, = ax.plot(*xy(nl), color=COL['NL'], lw=LW)
    h_gev, = ax.plot(*xy(gev), color=COL['GGEV'], lw=LW)
    h_ggd, = ax.plot(*xy(ggd), color=COL['GGD'], lw=LW)
    h_gam, = ax.plot(*xy(gam), color=COL['Gamma'], lw=LW)
    h_prop, = ax.plot(*xy(prop), color=COL['Prop'], lw=LW)
    handles = [h_pdf, h_gev, h_prop, h_anl, h_ggd, h_nl, h_gam]
    L = RIGHT_LABELS
    labels = [L[0], L[3], L[6], L[1], L[4], L[2], L[5]]
    legend(ax, handles, labels, 0.044)
    if last:
        ax.set_xlim(2.5, 5.8)
        ax.set_ylim(-20, 10)
        ax.set_xticks(RIGHT12_XTICKS, [fmt(v) for v in RIGHT12_XTICKS])
        ax.set_yticks(RIGHT12_YTICKS, [fmt(v) for v in RIGHT12_YTICKS])
    else:
        ax.set_xlim(3.2, 5.6)
        ax.set_ylim(-10, 5)
        ax.set_xticks(RIGHT_XTICKS, [fmt(v) for v in RIGHT_XTICKS])
        ax.set_yticks(RIGHT_YTICKS, [fmt(v) for v in RIGHT_YTICKS])
        if i < 10:
            ax.tick_params(labelbottom=False)
        else:
            ax.set_xlabel('ILM-RPE', fontsize=8, fontweight='bold', labelpad=0.5)

fig.text(190 / FIG_W, 1 - 1042 / FIG_H, '(a)', ha='center', va='center',
         family=['Liberation Serif', 'DejaVu Serif'], fontsize=13)
fig.text(597 / FIG_W, 1 - 1042 / FIG_H, '(b)', ha='center', va='center',
         family=['Liberation Serif', 'DejaVu Serif'], fontsize=13)

fig.savefig('out.png', dpi=100)
